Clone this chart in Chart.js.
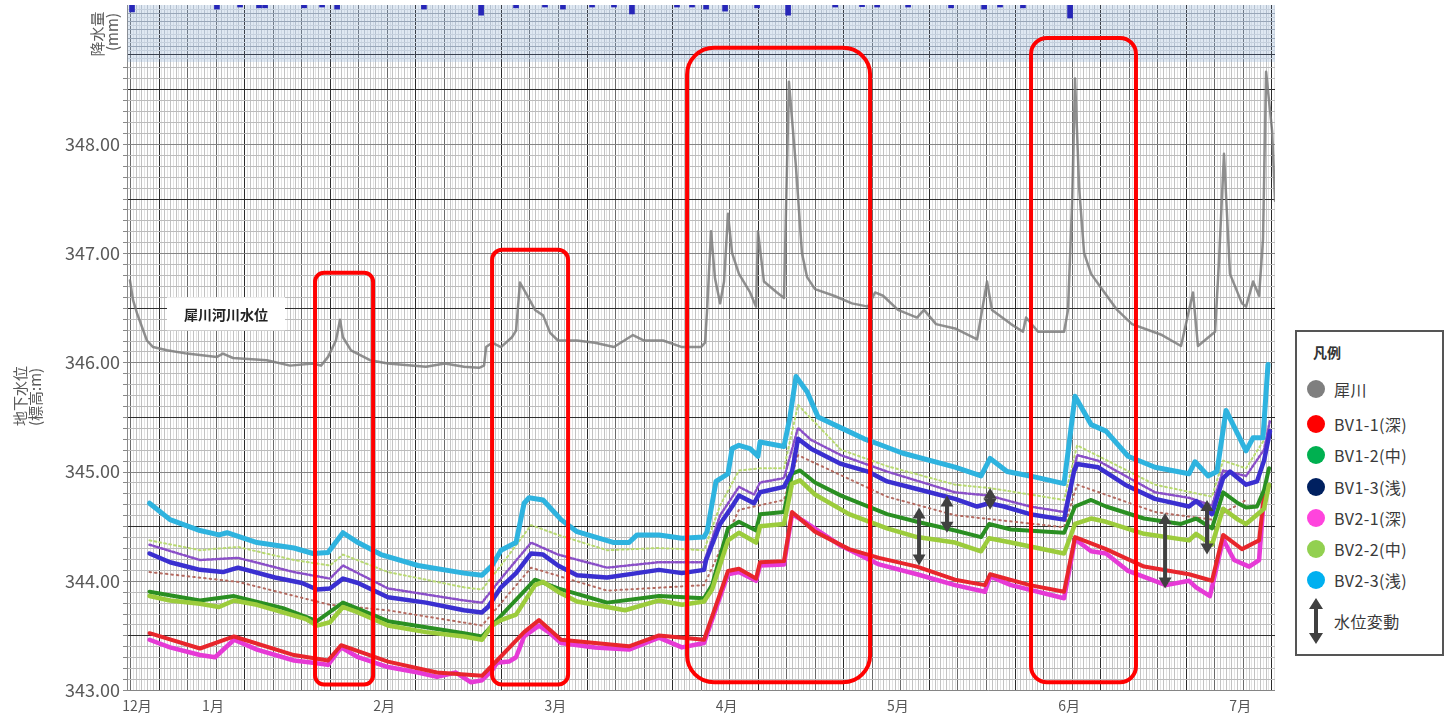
<!DOCTYPE html>
<html>
<head>
<meta charset="utf-8">
<script src="https://cdn.jsdelivr.net/npm/chart.js@4.4.1/dist/chart.umd.min.js"></script>
<style>
  html, body { margin: 0; padding: 0; background: #fff; width: 1452px; height: 715px; overflow: hidden;
    font-family: "Noto Sans CJK JP", "Noto Sans", sans-serif; }
  #rain { position: absolute; left: 0; top: 0; z-index: 1; }
  #main { position: absolute; left: 0; top: 0; z-index: 2; }
  #legend { position: absolute; left: 1295px; top: 330px; width: 145px; height: 322px;
    border: 2px solid #555; background: #fff; z-index: 3; color: #3a3a3a; }
  #legend .ttl { position: absolute; left: 16px; top: 10px; font-size: 14px; font-weight: bold; color: #333; }
  #legend .it { position: absolute; left: 0; height: 20px; width: 145px; }
  #legend .dot { position: absolute; left: 10px; top: 1px; width: 18px; height: 18px; border-radius: 50%; }
  #legend .tx { position: absolute; left: 37px; top: -2px; font-size: 16px; letter-spacing: 0.4px; white-space: nowrap; }
  #legend svg { position: absolute; left: 10px; }
</style>
</head>
<body>
<canvas id="rain" width="1452" height="62"></canvas>
<canvas id="main" width="1452" height="715"></canvas>
<div id="legend"></div>
<script>
// ---- axis set-up (x in month units: 1 = start of January) ----
const X_MIN = 0.5035, X_MAX = 7.203;
const monthTicks  = [0.556, 1, 2, 3, 4, 5, 6, 7];
const monthLabels = ['12月', '1月', '2月', '3月', '4月', '5月', '6月', '7月'];
const levelTicks  = [343, 344, 345, 346, 347, 348];

// ---- rainfall (mm) ----
const rainDates = [0.527,1.023,1.158,1.269,1.304,1.532,1.637,1.725,2.232,2.566,2.770,2.939,3.044,3.214,3.342,3.447,3.710,3.798,3.880,3.991,4.178,4.359,4.634,4.791,4.879,5.060,5.311,5.504,5.597,5.731,6.006];
const rainMm    = [17,10,5,7,7,7,5,10,10,25,7,5,10,5,5,22,5,5,10,15,7,25,5,4,5,5,7,10,5,7,32];

// ---- river level (犀川) ----
const riverSai = [[0.515,346.75],[0.533,346.57],[0.556,346.45],[0.614,346.20],[0.650,346.14],[0.731,346.11],[0.848,346.08],[1.023,346.05],[1.058,346.08],[1.117,346.04],[1.315,346.02],[1.450,345.97],[1.584,345.99],[1.631,345.97],[1.672,346.05],[1.718,346.20],[1.742,346.39],[1.759,346.23],[1.806,346.11],[1.917,346.02],[2.022,345.99],[2.244,345.96],[2.355,345.99],[2.466,345.96],[2.554,345.95],[2.583,345.97],[2.595,346.14],[2.630,346.18],[2.682,346.14],[2.746,346.23],[2.770,346.29],[2.793,346.73],[2.840,346.60],[2.881,346.48],[2.928,346.43],[2.969,346.27],[3.015,346.20],[3.126,346.20],[3.231,346.18],[3.342,346.14],[3.453,346.25],[3.518,346.20],[3.629,346.20],[3.739,346.14],[3.850,346.14],[3.874,346.18],[3.886,346.48],[3.909,347.20],[3.932,346.77],[3.962,346.54],[3.985,346.74],[4.008,347.36],[4.032,347.00],[4.072,346.81],[4.137,346.64],[4.172,346.51],[4.183,347.20],[4.218,346.74],[4.294,346.64],[4.335,346.59],[4.364,348.57],[4.405,347.79],[4.440,347.00],[4.470,346.78],[4.516,346.67],[4.627,346.61],[4.732,346.54],[4.826,346.51],[4.867,346.64],[4.914,346.61],[5.001,346.48],[5.112,346.41],[5.153,346.48],[5.223,346.35],[5.334,346.31],[5.463,346.21],[5.521,346.74],[5.550,346.48],[5.661,346.35],[5.731,346.28],[5.749,346.41],[5.819,346.28],[5.971,346.28],[5.994,346.48],[6.018,347.46],[6.035,348.60],[6.059,347.60],[6.088,347.00],[6.129,346.81],[6.193,346.67],[6.281,346.48],[6.368,346.35],[6.543,346.25],[6.654,346.15],[6.701,346.48],[6.724,346.64],[6.753,346.15],[6.853,346.28],[6.876,346.93],[6.905,347.91],[6.940,346.81],[7.010,346.54],[7.034,346.51],[7.075,346.74],[7.110,346.61],[7.133,347.13],[7.151,348.66],[7.186,348.12],[7.203,347.48]];

// ---- groundwater levels (m) ----
const bv23 = [[0.629,344.71],[0.749,344.56],[0.924,344.46],[1.035,344.42],[1.082,344.44],[1.257,344.35],[1.473,344.30],[1.584,344.25],[1.672,344.26],[1.759,344.44],[1.847,344.35],[1.981,344.24],[2.197,344.14],[2.466,344.07],[2.571,344.05],[2.630,344.14],[2.682,344.28],[2.770,344.35],[2.817,344.71],[2.846,344.76],[2.928,344.74],[3.033,344.56],[3.126,344.45],[3.342,344.35],[3.430,344.35],[3.477,344.42],[3.605,344.42],[3.739,344.39],[3.868,344.40],[3.886,344.45],[3.938,344.91],[4.008,344.98],[4.032,345.21],[4.072,345.24],[4.137,345.21],[4.183,345.14],[4.195,345.27],[4.335,345.23],[4.370,345.50],[4.405,345.87],[4.470,345.73],[4.534,345.50],[4.668,345.40],[4.803,345.30],[4.890,345.25],[5.025,345.17],[5.334,345.04],[5.486,344.96],[5.539,345.12],[5.638,345.00],[5.772,344.96],[5.971,344.89],[6.035,345.69],[6.129,345.43],[6.216,345.37],[6.345,345.14],[6.502,345.04],[6.701,344.98],[6.736,345.09],[6.812,344.96],[6.864,345.00],[6.917,345.56],[7.034,345.19],[7.075,345.31],[7.133,345.31],[7.162,345.98]];

const bv13 = [[0.629,344.25],[0.749,344.17],[0.924,344.10],[1.058,344.08],[1.146,344.12],[1.362,344.03],[1.520,343.98],[1.607,343.92],[1.683,343.93],[1.759,344.02],[1.847,343.98],[2.022,343.85],[2.244,343.80],[2.466,343.73],[2.571,343.71],[2.606,343.76],[2.682,343.94],[2.770,344.07],[2.858,344.25],[2.928,344.24],[3.015,344.14],[3.126,344.05],[3.302,344.03],[3.477,344.07],[3.605,344.10],[3.739,344.07],[3.868,344.10],[3.880,344.19],[3.962,344.52],[4.032,344.68],[4.072,344.78],[4.160,344.71],[4.195,344.81],[4.335,344.86],[4.382,345.00],[4.417,345.30],[4.493,345.21],[4.668,345.07],[4.826,345.00],[4.937,344.91],[5.112,344.84],[5.334,344.75],[5.463,344.68],[5.533,344.71],[5.620,344.68],[5.772,344.61],[5.971,344.56],[6.029,345.00],[6.047,345.07],[6.169,345.04],[6.327,344.88],[6.502,344.75],[6.701,344.68],[6.742,344.73],[6.835,344.61],[6.900,344.94],[6.940,345.00],[7.034,344.88],[7.098,344.91],[7.139,345.10],[7.174,345.37]];

const bv12 = [[0.629,343.90],[0.924,343.82],[1.123,343.86],[1.409,343.75],[1.607,343.63],[1.759,343.80],[2.022,343.63],[2.466,343.52],[2.571,343.49],[2.682,343.68],[2.881,344.01],[3.015,343.93],[3.302,343.80],[3.605,343.86],[3.868,343.84],[3.915,343.96],[4.008,344.48],[4.072,344.54],[4.172,344.46],[4.195,344.61],[4.335,344.63],[4.382,344.98],[4.429,345.01],[4.516,344.90],[4.668,344.78],[4.937,344.61],[5.112,344.54],[5.334,344.46],[5.486,344.40],[5.533,344.52],[5.661,344.47],[5.971,344.44],[6.035,344.68],[6.129,344.74],[6.216,344.68],[6.438,344.57],[6.654,344.52],[6.742,344.57],[6.835,344.48],[6.900,344.81],[6.987,344.71],[7.034,344.67],[7.098,344.68],[7.139,344.83],[7.168,345.03]];

const bv22 = [[0.629,343.86],[0.749,343.82],[0.924,343.79],[1.035,343.76],[1.123,343.82],[1.257,343.78],[1.409,343.71],[1.543,343.65],[1.607,343.59],[1.683,343.62],[1.759,343.76],[1.847,343.71],[2.022,343.59],[2.244,343.53],[2.466,343.49],[2.571,343.46],[2.630,343.59],[2.682,343.64],[2.770,343.69],[2.881,343.96],[2.928,343.99],[3.015,343.90],[3.126,343.81],[3.302,343.76],[3.407,343.73],[3.605,343.82],[3.739,343.78],[3.868,343.81],[3.915,343.92],[4.008,344.37],[4.072,344.44],[4.172,344.35],[4.195,344.50],[4.335,344.52],[4.382,344.89],[4.429,344.92],[4.516,344.79],[4.715,344.61],[4.937,344.48],[5.112,344.40],[5.334,344.35],[5.486,344.27],[5.533,344.39],[5.661,344.35],[5.971,344.25],[6.035,344.52],[6.129,344.57],[6.216,344.54],[6.438,344.43],[6.701,344.37],[6.742,344.43],[6.835,344.33],[6.900,344.66],[6.987,344.56],[7.034,344.52],[7.139,344.66],[7.168,344.88]];

const bv11 = [[0.629,343.52],[0.924,343.38],[1.123,343.49],[1.473,343.32],[1.672,343.27],[1.748,343.41],[2.022,343.26],[2.308,343.16],[2.571,343.13],[2.659,343.27],[2.817,343.53],[2.904,343.64],[3.033,343.46],[3.430,343.40],[3.605,343.50],[3.868,343.46],[3.921,343.70],[4.008,344.09],[4.072,344.11],[4.172,344.02],[4.195,344.17],[4.335,344.18],[4.382,344.63],[4.516,344.45],[4.715,344.29],[4.890,344.21],[5.112,344.13],[5.334,344.01],[5.509,343.96],[5.539,344.06],[5.772,343.96],[5.971,343.90],[6.035,344.40],[6.216,344.29],[6.438,344.13],[6.701,344.06],[6.835,344.00],[6.900,344.42],[7.010,344.29],[7.110,344.37],[7.139,344.78]];

const bv21 = [[0.629,343.46],[0.749,343.39],[0.924,343.32],[1.012,343.30],[1.123,343.46],[1.257,343.37],[1.473,343.27],[1.584,343.25],[1.672,343.23],[1.748,343.39],[1.847,343.30],[2.022,343.21],[2.197,343.16],[2.308,343.12],[2.419,343.16],[2.507,343.07],[2.571,343.09],[2.630,343.18],[2.659,343.25],[2.729,343.26],[2.770,343.30],[2.817,343.49],[2.904,343.59],[2.969,343.52],[3.033,343.43],[3.231,343.39],[3.430,343.37],[3.605,343.48],[3.739,343.39],[3.868,343.43],[3.921,343.67],[4.008,344.06],[4.072,344.08],[4.172,344.00],[4.195,344.14],[4.335,344.15],[4.382,344.61],[4.446,344.55],[4.668,344.32],[4.890,344.15],[5.112,344.06],[5.334,343.96],[5.509,343.90],[5.539,344.04],[5.661,343.96],[5.971,343.84],[6.035,344.38],[6.129,344.27],[6.216,344.25],[6.345,344.09],[6.566,343.96],[6.701,344.00],[6.742,343.94],[6.823,343.86],[6.900,344.38],[6.964,344.19],[7.052,344.13],[7.110,344.19],[7.139,344.78]];

// scattered readings that run alongside the main traces
const bv22Spread = [[0.629,344.37],[0.924,344.28],[1.146,344.31],[1.473,344.19],[1.683,344.14],[1.759,344.24],[2.022,344.08],[2.466,343.94],[2.571,343.92],[2.682,344.14],[2.858,344.51],[3.015,344.42],[3.302,344.28],[3.605,344.30],[3.868,344.28],[3.962,344.69],[4.072,345.01],[4.195,345.03],[4.335,345.03],[4.417,345.61],[4.668,345.20],[4.937,345.05],[5.334,344.88],[5.533,344.85],[5.971,344.74],[6.047,345.24],[6.502,344.88],[6.835,344.77],[6.900,345.10],[7.034,345.03],[7.139,345.29]];
const bv13Spread = [[0.629,344.33],[0.924,344.19],[1.146,344.21],[1.473,344.08],[1.683,344.02],[1.759,344.14],[2.022,343.93],[2.466,343.82],[2.571,343.80],[2.682,344.02],[2.858,344.35],[3.015,344.24],[3.302,344.12],[3.605,344.17],[3.868,344.17],[3.962,344.60],[4.072,344.86],[4.160,344.79],[4.195,344.90],[4.335,344.94],[4.417,345.40],[4.493,345.29],[4.668,345.15],[4.937,345.00],[5.334,344.81],[5.533,344.78],[5.772,344.68],[5.971,344.63],[6.047,345.15],[6.169,345.10],[6.502,344.81],[6.701,344.76],[6.835,344.69],[6.900,345.01],[7.034,344.96],[7.139,345.20],[7.174,345.47]];
const bv11Spread = [[0.629,344.08],[1.146,343.99],[1.683,343.78],[2.022,343.73],[2.571,343.59],[2.858,344.12],[3.302,343.91],[3.868,343.96],[4.072,344.65],[4.335,344.74],[4.417,345.15],[4.937,344.77],[5.334,344.60],[5.971,344.49],[6.047,344.88],[6.502,344.63],[6.835,344.56],[7.034,344.74]];

// ---- annotations ----
const focusBoxes  = [[1.596,1.935,343.05,346.82],[2.630,3.074,343.05,347.03],[3.769,4.838,343.07,348.88],[5.778,6.391,343.07,348.97]];
const focusRadius = [9, 10, 27, 16];
const swingArrows = [[5.124,344.67,344.14],[5.287,344.78,344.44],[5.539,344.85,344.65],[6.561,344.62,343.93],[6.806,344.74,344.24]];
const riverTag = { text: '犀川河川水位', x: 1.076, y: 346.44 };

const legendItems = [
  ['犀川', '#7f7f7f'], ['BV1-1(深)', '#ff0000'], ['BV1-2(中)', '#00b050'], ['BV1-3(浅)', '#002060'],
  ['BV2-1(深)', '#ff44dd'], ['BV2-2(中)', '#92d050'], ['BV2-3(浅)', '#00b0f0']
];

const FONT = '"Noto Sans CJK JP", "Noto Sans", sans-serif';

// graph-paper background shared by both panels
function drawPaper(chart, p) {
  const { ctx, chartArea: a, scales: { x, y } } = chart;
  ctx.save();
  ctx.fillStyle = p.bg;
  ctx.fillRect(a.left, a.top, a.right - a.left, a.bottom - a.top);
  ctx.lineWidth = 1;
  // vertical rulings: 1/60 month fine lines, 1/6 month main lines
  const m0 = 0.515;
  for (let k = 0; ; k++) {
    const m = m0 + k / 60;
    if (m > X_MAX) break;
    const px = Math.round(x.getPixelForValue(m)) + 0.5;
    let c;
    if (k % 10 === 0) c = ((k / 10) % 3 === 1) ? p.heavy : p.major;
    else if (k % 2 === 0) c = p.minor;
    else c = p.fine;
    ctx.strokeStyle = c;
    ctx.beginPath(); ctx.moveTo(px, a.top); ctx.lineTo(px, a.bottom); ctx.stroke();
  }
  // horizontal rulings
  p.hLines.forEach(([v, c]) => {
    const py = Math.round(y.getPixelForValue(v)) + 0.5;
    ctx.strokeStyle = c;
    ctx.beginPath(); ctx.moveTo(a.left, py); ctx.lineTo(a.right, py); ctx.stroke();
  });
  ctx.restore();
}

// ---------- rainfall panel ----------
const rainHLines = [];
for (let v = 10; v < 140; v += 10) {
  rainHLines.push([v, v === 120 ? '#3b4250' : (v % 20 === 0 ? '#98a6b8' : '#c5d0dd')]);
}
new Chart(document.getElementById('rain'), {
  type: 'bar',
  data: { datasets: [{
    data: rainDates.map((d, i) => ({ x: d, y: rainMm[i] })),
    backgroundColor: '#2626b8', barThickness: 5
  }]},
  options: {
    responsive: false, animation: false,
    layout: { padding: { left: 128, right: 177, top: 5, bottom: 0 } },
    plugins: { legend: { display: false }, tooltip: { enabled: false } },
    scales: {
      x: { type: 'linear', min: X_MIN, max: X_MAX, offset: false, display: false },
      y: { min: 0, max: 140, reverse: true, display: false }
    }
  },
  plugins: [{
    id: 'rainPaper',
    beforeDatasetsDraw(chart) {
      drawPaper(chart, { bg: '#dfe8f2', heavy: '#3a3f48', major: '#6f7a88', minor: '#b4c0cf', fine: '#cfd9e5', hLines: rainHLines });
    },
    afterDraw(chart) {
      const { ctx, chartArea: a } = chart;
      ctx.save();
      ctx.fillStyle = '#595959';
      ctx.font = '15px ' + FONT;
      ctx.textAlign = 'center'; ctx.textBaseline = 'middle';
      ctx.translate(97, 34); ctx.rotate(-Math.PI / 2); ctx.fillText('降水量', 0, 0);
      ctx.restore();
      ctx.save();
      ctx.fillStyle = '#595959';
      ctx.font = '15px ' + FONT;
      ctx.textAlign = 'center'; ctx.textBaseline = 'middle';
      ctx.translate(112, 32); ctx.rotate(-Math.PI / 2); ctx.fillText('(mm)', 0, 0);
      ctx.restore();
      ctx.save();
      ctx.strokeStyle = '#8a8f96'; ctx.lineWidth = 1;
      ctx.beginPath(); ctx.moveTo(a.left - 0.5, a.top); ctx.lineTo(a.left - 0.5, a.bottom); ctx.stroke();
      ctx.restore();
    }
  }]
});

// ---------- groundwater panel ----------
const mainHLines = [];
for (let i = 0; i <= 57; i++) {
  const v = Math.round((343 + i * 0.1) * 10) / 10;
  const frac = Math.round((v - Math.floor(v)) * 10);
  mainHLines.push([v, frac === 5 ? '#2e2e2e' : (frac === 0 ? '#858585' : '#bcbcbc')]);
}

function band(label, data, color, width, order, dash) {
  return { type: 'line', label, data, borderColor: color, backgroundColor: color,
    borderWidth: width, pointRadius: 0, tension: 0, fill: false, order,
    borderDash: dash || [], borderJoinStyle: 'round', borderCapStyle: 'round' };
}

const mainPlugin = {
  id: 'mainPaper',
  beforeDatasetsDraw(chart) {
    drawPaper(chart, { bg: '#ffffff', heavy: '#2b2b2b', major: '#6a6a6a', minor: '#c2c2c2', fine: '#e2e2e2', hLines: mainHLines });
  },
  afterDraw(chart) {
    const { ctx, chartArea: a, scales: { x, y } } = chart;
    ctx.save();
    // axis edge with small ticks every 0.1 m
    ctx.strokeStyle = '#8a8a8a'; ctx.lineWidth = 1;
    ctx.beginPath(); ctx.moveTo(a.left - 0.5, a.top); ctx.lineTo(a.left - 0.5, a.bottom); ctx.stroke();
    mainHLines.forEach(([v]) => {
      const py = Math.round(y.getPixelForValue(v)) + 0.5;
      ctx.beginPath(); ctx.moveTo(a.left - 5, py); ctx.lineTo(a.left, py); ctx.stroke();
    });

    // river label
    const tx = x.getPixelForValue(riverTag.x), ty = y.getPixelForValue(riverTag.y);
    ctx.fillStyle = '#ffffff';
    ctx.fillRect(tx - 59, ty - 17, 118, 33);
    ctx.fillStyle = '#222';
    ctx.font = 'bold 14px ' + FONT;
    ctx.textAlign = 'center'; ctx.textBaseline = 'middle';
    ctx.fillText(riverTag.text, tx, ty);

    // water-level swing arrows
    ctx.fillStyle = '#404040'; ctx.strokeStyle = '#404040';
    swingArrows.forEach(([m, top, bottom]) => {
      const px = x.getPixelForValue(m);
      const y1 = y.getPixelForValue(top), y2 = y.getPixelForValue(bottom);
      const hl = Math.min(11, (y2 - y1) / 2), hw = 6.5;
      ctx.lineWidth = 4;
      ctx.beginPath(); ctx.moveTo(px, y1 + hl - 1); ctx.lineTo(px, y2 - hl + 1); ctx.stroke();
      ctx.beginPath(); ctx.moveTo(px, y1); ctx.lineTo(px - hw, y1 + hl); ctx.lineTo(px + hw, y1 + hl); ctx.closePath(); ctx.fill();
      ctx.beginPath(); ctx.moveTo(px, y2); ctx.lineTo(px - hw, y2 - hl); ctx.lineTo(px + hw, y2 - hl); ctx.closePath(); ctx.fill();
    });

    // highlighted periods
    ctx.strokeStyle = '#ff0000'; ctx.lineWidth = 4;
    focusBoxes.forEach(([m1, m2, v1, v2], i) => {
      const l = x.getPixelForValue(m1), r = x.getPixelForValue(m2);
      const t = y.getPixelForValue(v2), b = y.getPixelForValue(v1);
      ctx.beginPath();
      ctx.roundRect(l, t, r - l, b - t, focusRadius[i]);
      ctx.stroke();
    });

    // y-axis title
    ctx.fillStyle = '#595959';
    ctx.font = '15px ' + FONT;
    ctx.textAlign = 'center'; ctx.textBaseline = 'middle';
    ctx.save(); ctx.translate(20, 396); ctx.rotate(-Math.PI / 2); ctx.fillText('地下水位', 0, 0); ctx.restore();
    ctx.save(); ctx.translate(35, 397); ctx.rotate(-Math.PI / 2); ctx.fillText('(標高:m)', 0, 0); ctx.restore();
    ctx.restore();
  }
};

new Chart(document.getElementById('main'), {
  type: 'line',
  data: { datasets: [
    band('犀川', riverSai, 'rgba(125,125,125,0.85)', 2.5, 1),
    band('BV2-3(浅)', bv23, '#2eb3df', 5, 2),
    band('BV1-3(浅)', bv13, '#3a2fd0', 4.5, 3),
    band('BV1-2(中)', bv12, '#2a8f22', 4, 5),
    band('BV2-2(中)', bv22, '#9ccc3c', 4.5, 4),
    band('BV1-1(深)', bv11, '#e8262c', 4, 6),
    band('BV2-1(深)', bv21, '#e63ad6', 4.5, 7),
    band('', bv22Spread, '#b9da72', 2, 9, [2, 3]),
    band('', bv13Spread, '#8a4fc8', 2.5, 8, [2, 2]),
    band('', bv11Spread, '#b46a60', 2, 10, [1.5, 4])
  ]},
  options: {
    responsive: false, animation: false,
    layout: { padding: { left: 0, right: 177, top: 62, bottom: 0 } },
    plugins: { legend: { display: false }, tooltip: { enabled: false } },
    scales: {
      x: {
        type: 'linear', min: X_MIN, max: X_MAX,
        afterBuildTicks: s => { s.ticks = monthTicks.map(v => ({ value: v })); },
        afterFit: s => { s.height = 25; },
        grid: { color: 'transparent', drawTicks: true, tickLength: 0 },
        border: { display: false },
        ticks: { autoSkip: false, maxRotation: 0, minRotation: 0, padding: 7, color: '#555',
          font: { size: 14, family: FONT }, callback: (v, i) => monthLabels[i] }
      },
      y: {
        min: 343, max: 348.75,
        afterBuildTicks: s => { s.ticks = levelTicks.map(v => ({ value: v })); },
        afterFit: s => { s.width = 128; },
        grid: { color: 'transparent', drawTicks: true, tickLength: 0 },
        border: { display: false },
        ticks: { padding: 8, color: '#595959', font: { size: 18, family: FONT },
          callback: v => Number(v).toFixed(2) }
      }
    }
  },
  plugins: [mainPlugin]
});

// ---------- legend ----------
const lg = document.getElementById('legend');
let html = '<div class="ttl">凡例</div>';
legendItems.forEach(([name, color], i) => {
  const top = [47, 82, 113, 145, 176, 207, 238][i];
  html += `<div class="it" style="top:${top}px"><div class="dot" style="background:${color}"></div><div class="tx">${name}</div></div>`;
});
html += '<svg width="18" height="46" style="top:266px" viewBox="0 0 18 46">' +
        '<polygon points="9,0 16,11 11,11 11,35 16,35 9,46 2,35 7,35 7,11 2,11" fill="#404040"/></svg>' +
        '<div class="it" style="top:279px"><div class="tx">水位変動</div></div>';
lg.innerHTML = html;
</script>
</body>
</html>
